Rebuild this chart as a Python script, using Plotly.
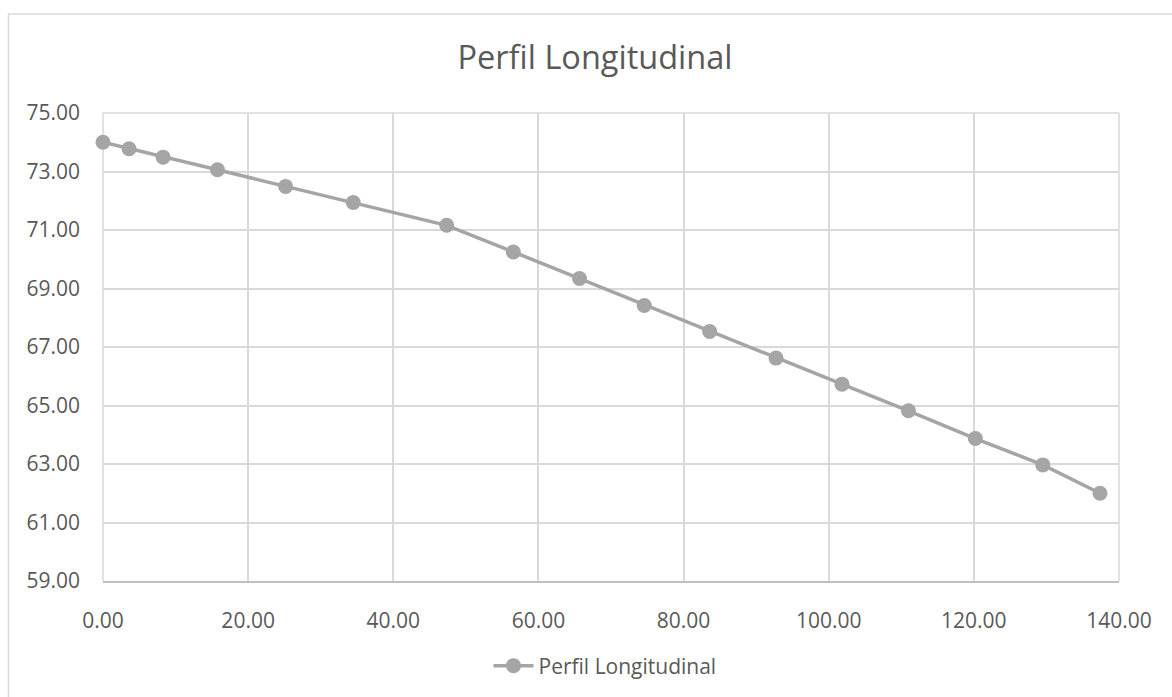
import plotly.graph_objects as go

distancia = [0.00, 3.59, 8.28, 15.78, 25.16, 34.48, 47.36, 56.55, 65.66, 74.58,
             83.59, 92.74, 101.83, 110.99, 120.20, 129.50, 137.38]
cota = [74.00, 73.78, 73.49, 73.06, 72.49, 71.94, 71.16, 70.25, 69.34, 68.42,
        67.53, 66.62, 65.73, 64.82, 63.87, 62.97, 62.00]
serie = "Perfil Longitudinal"
titulo = "Perfil Longitudinal"

W, H = 1172, 697
L, R, T, B = 103, 53, 113, 116

fig = go.Figure()
fig.add_trace(go.Scatter(
    x=distancia, y=cota, mode="lines+markers", name=serie,
    line=dict(color="#a5a5a5", width=3.5),
    marker=dict(color="#a5a5a5", size=15),
    cliponaxis=False,
))

font = "Open Sans, sans-serif"
fig.update_layout(
    width=W, height=H,
    margin=dict(l=L, r=R, t=T, b=B),
    paper_bgcolor="white", plot_bgcolor="white",
    font=dict(family=font, color="#595959", size=21),
    title=dict(text=titulo, x=595 / W, xref="container", xanchor="center",
               y=1 - 58 / H, yref="container", yanchor="middle",
               font=dict(size=32.5, color="#595959", family=font)),
    showlegend=True,
    legend=dict(orientation="h", xref="container", yref="container",
                x=605 / W, xanchor="center", y=1 - 666 / H, yanchor="middle",
                font=dict(size=21, color="#595959"), itemwidth=40),
    xaxis=dict(range=[0, 140], dtick=20, tick0=0, tickformat=".2f",
               showgrid=True, gridcolor="#d9d9d9", gridwidth=1.5,
               showline=True, linecolor="#bfbfbf", linewidth=1.5,
               zeroline=False, ticks="", ticklabelstandoff=20,
               tickfont=dict(size=21, color="#595959")),
    yaxis=dict(range=[59, 75], dtick=2, tick0=59, tickformat=".2f",
               showgrid=True, gridcolor="#d9d9d9", gridwidth=1.5,
               showline=False, zeroline=False, ticks="",
               ticklabelstandoff=22,
               tickfont=dict(size=21, color="#595959")),
)

# outer chart border (Excel chart area)
pw = W - L - R
ph = H - T - B
fig.add_shape(type="rect", xref="paper", yref="paper",
              x0=(8.5 - L) / pw, x1=(W + 20 - L) / pw,
              y0=-(H + 20 - (H - B)) / ph, y1=((H - B) - 14) / ph,
              line=dict(color="#d9d9d9", width=1.5), layer="below")
# edge gridlines
fig.add_shape(type="line", xref="paper", yref="paper", x0=0, x1=0, y0=0, y1=1,
              line=dict(color="#d9d9d9", width=1.5), layer="below")
fig.add_shape(type="line", xref="paper", yref="paper", x0=1, x1=1, y0=0, y1=1,
              line=dict(color="#d9d9d9", width=1.5), layer="below")
fig.add_shape(type="line", xref="paper", yref="paper", x0=0, x1=1, y0=1, y1=1,
              line=dict(color="#d9d9d9", width=1.5), layer="below")

fig.write_html("out.html")
